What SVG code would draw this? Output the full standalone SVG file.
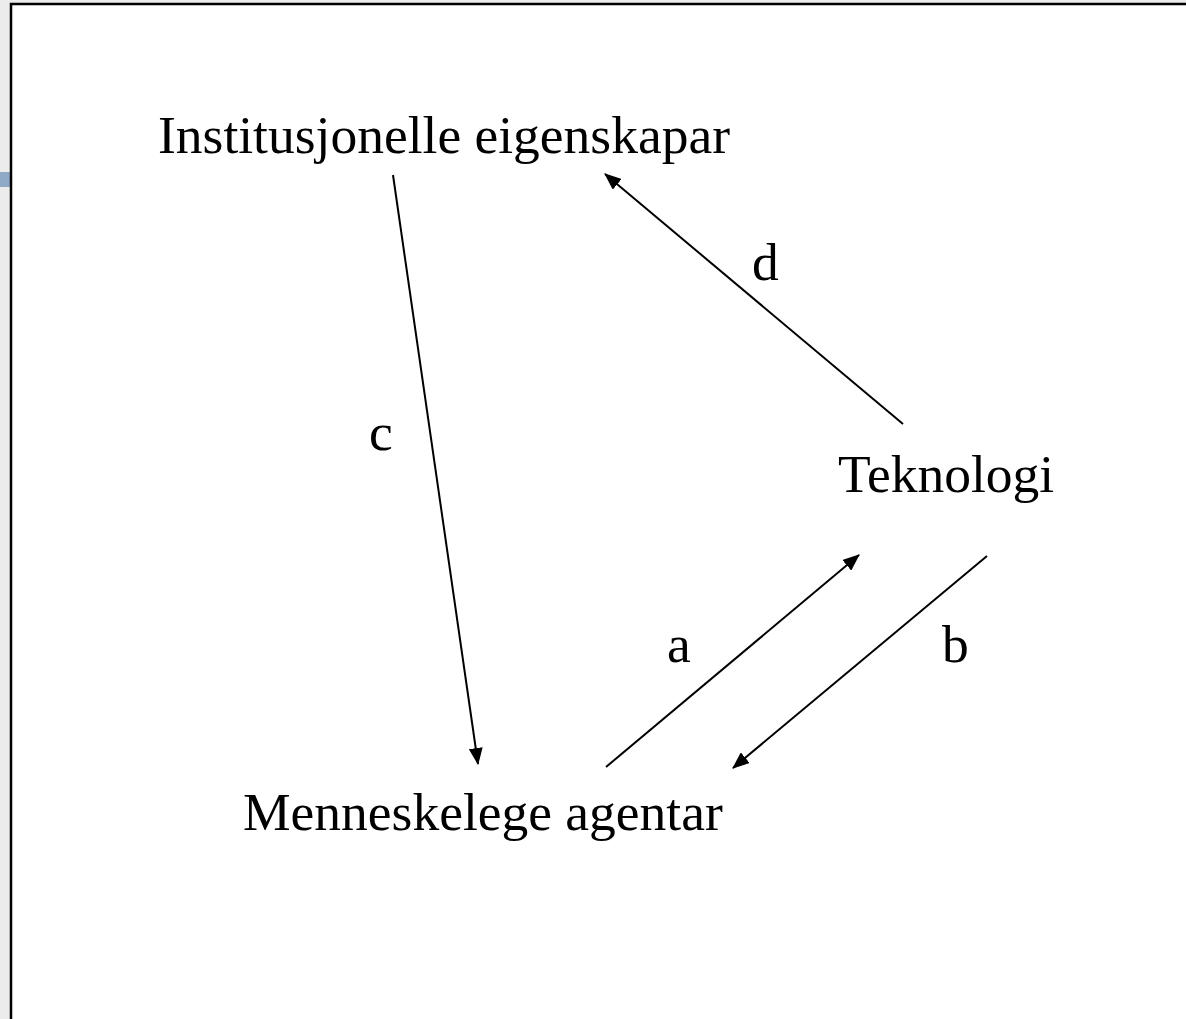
<svg xmlns="http://www.w3.org/2000/svg" width="1186" height="1019" viewBox="0 0 1186 1019">
<style>
.t{font-family:"Liberation Serif","Times New Roman",serif;font-size:53.5px;fill:#000}
.c{stroke:#000;stroke-width:2;fill:none}
</style>
<defs>
<marker id="ah" markerWidth="17" markerHeight="14" refX="16" refY="7" orient="auto" markerUnits="userSpaceOnUse">
<path d="M0,0 L17,7 L0,14 Z" fill="#000"/>
</marker>
</defs>
<rect x="0" y="0" width="1186" height="1019" fill="#ececec"/>
<rect x="11" y="4" width="1175" height="1015" fill="#fff"/>
<rect x="0" y="172" width="10" height="15" fill="#8eaac6"/>
<path d="M11,1019 V4 H1186" stroke="#000" stroke-width="2.5" fill="none"/>
<g id="n1"><text class="t" x="158" y="153">Institusjonelle eigenskapar</text></g>
<g id="n2"><text class="t" x="838" y="492">Teknologi</text></g>
<g id="n3"><text class="t" x="243" y="830">Menneskelege agentar</text></g>
<g id="connectors">
<line class="c" x1="393" y1="175" x2="478" y2="764" marker-end="url(#ah)"/>
<line class="c" x1="903" y1="424" x2="605" y2="174" marker-end="url(#ah)"/>
<line class="c" x1="606" y1="767" x2="859" y2="555" marker-end="url(#ah)"/>
<line class="c" x1="987" y1="556" x2="733" y2="768" marker-end="url(#ah)"/>
<text class="t" x="369" y="450">c</text>
<text class="t" x="752" y="280">d</text>
<text class="t" x="667" y="662">a</text>
<text class="t" x="942" y="662">b</text>
</g>
</svg>
